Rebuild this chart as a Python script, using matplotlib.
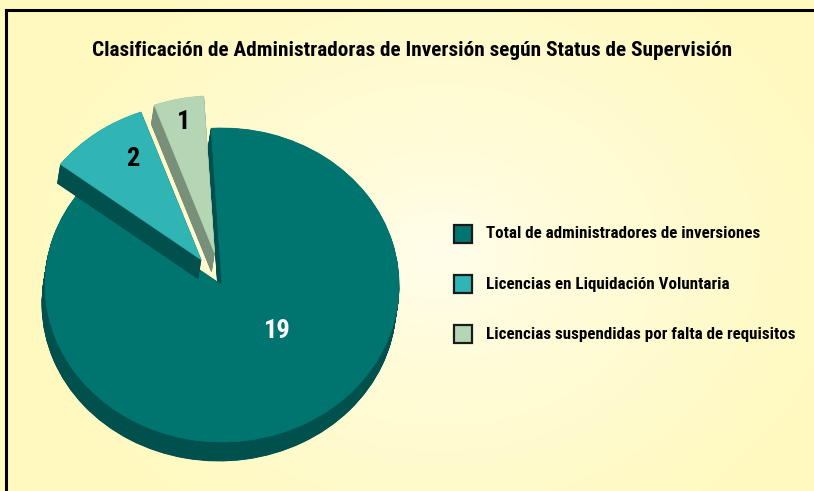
import numpy as np
import matplotlib as mpl
mpl.use('Agg')
import matplotlib.pyplot as plt
from matplotlib.patches import Wedge, Rectangle
import logging
logging.getLogger('matplotlib.font_manager').setLevel(logging.ERROR)

# data
TITLE = 'Clasificación de Administradoras de Inversión según Status de Supervisión'
LABELS = ['Total de administradores de inversiones',
          'Licencias en Liquidación Voluntaria',
          'Licencias suspendidas por falta de requisitos']
VALUES = [19, 2, 1]
TOP_COLORS = ['#007570', '#30b4b4', '#b4d6b4']
SIDE_COLORS = ['#00504e', '#00504e', '#78907a']
EXPLODE = [0.0, 0.2, 0.21]

FONT = ['Roboto Condensed', 'Liberation Sans Narrow', 'DejaVu Sans']
W, H = 814, 491

fig = plt.figure(figsize=(W / 100, H / 100), dpi=100)
renderer = fig.canvas.get_renderer()


def fit_width(txt, target):
    """shrink/grow font so the rendered text is target px wide"""
    for _ in range(3):
        w = txt.get_window_extent(renderer).width
        txt.set_fontsize(txt.get_fontsize() * target / w)


# background: radial yellow gradient
bg = fig.add_axes([0, 0, 1, 1])
yy, xx = np.mgrid[0:H, 0:W]
d = np.sqrt(((xx - 440) / 420.0) ** 2 + ((yy - 255) / 330.0) ** 2)
d = np.clip(d, 0, 1) ** 0.8
inner = np.array([255, 254, 236]) / 255.0
outer = np.array([255, 249, 192]) / 255.0
img = inner[None, None, :] * (1 - d[..., None]) + outer[None, None, :] * d[..., None]
bg.imshow(img, extent=[0, W, H, 0], aspect='auto')
bg.plot([6, 6], [H, 10], color='black', lw=2.2)
bg.plot([6, W], [10, 10], color='black', lw=2.2)
bg.set_xlim(0, W)
bg.set_ylim(H, 0)
bg.axis('off')

# pie axes: unit circle -> 177 x 157 px ellipse centred at (222, 285)
rx, ry = 177.0, 157.0
cx, cy = 222.0, 285.0
ax = fig.add_axes([0, (H - cy - 190) / H, 444 / W, 380 / H])
ax.set_xlim(-222 / rx, 222 / rx)
ax.set_ylim(-190 / ry, 190 / ry)
ax.set_aspect('auto')
ax.axis('off')
ax.patch.set_alpha(0)

depth = 19 / ry
shift = -3 / rx
start = 93.5
total = float(sum(VALUES))
spans = [v / total * 360.0 for v in VALUES]

# order around the circle (counterclockwise from start): 1, 2, 19
order = [2, 1, 0]
theta = {}
a = start
for i in order:
    theta[i] = (a, a + spans[i])
    a += spans[i]

centres = {}
for i in range(len(VALUES)):
    t1, t2 = theta[i]
    mid = np.deg2rad((t1 + t2) / 2)
    centres[i] = (EXPLODE[i] * np.cos(mid), EXPLODE[i] * np.sin(mid))

# draw main slice first, then the exploded ones on top
for i in [0, 1, 2]:
    t1, t2 = theta[i]
    ox, oy = centres[i]
    steps = 40
    for k in range(steps, 0, -1):
        f = k / steps
        ax.add_patch(Wedge((ox + shift * f, oy - depth * f), 1.0, t1, t2,
                           facecolor=SIDE_COLORS[i], edgecolor=SIDE_COLORS[i], lw=0.6))
    ax.add_patch(Wedge((ox, oy), 1.0, t1, t2, facecolor=TOP_COLORS[i],
                       edgecolor=TOP_COLORS[i], lw=0.5))

# value labels
label_pos = {0: (0.43, 317.0), 1: (0.75, 121.0), 2: (0.85, 102.0)}
for i in range(len(VALUES)):
    r, ang = label_pos[i]
    ox, oy = centres[i]
    ax.text(ox + r * np.cos(np.deg2rad(ang)), oy + r * np.sin(np.deg2rad(ang)),
            str(VALUES[i]), ha='center', va='center', fontsize=19, fontweight='bold',
            family=FONT, fontstretch='condensed',
            color='white' if i == 0 else 'black')

# title
t = bg.text(412, 50, TITLE, ha='center', va='center', fontsize=14.5, fontweight='bold',
            family=FONT, fontstretch='condensed', color='black')
fit_width(t, 640)

# legend
leg_texts = []
for j, lab in enumerate(LABELS):
    y = 234 + j * 50
    bg.add_patch(Rectangle((454, y - 9), 18, 18, facecolor=TOP_COLORS[j],
                           edgecolor='#1a1a1a', lw=1.6))
    leg_texts.append(bg.text(486, y, lab, ha='left', va='center', fontsize=11.5,
                             fontweight='bold', family=FONT, fontstretch='condensed',
                             color='black'))
fit_width(leg_texts[0], 274)
for lt in leg_texts[1:]:
    lt.set_fontsize(leg_texts[0].get_fontsize())

fig.savefig('out.png', dpi=100)
